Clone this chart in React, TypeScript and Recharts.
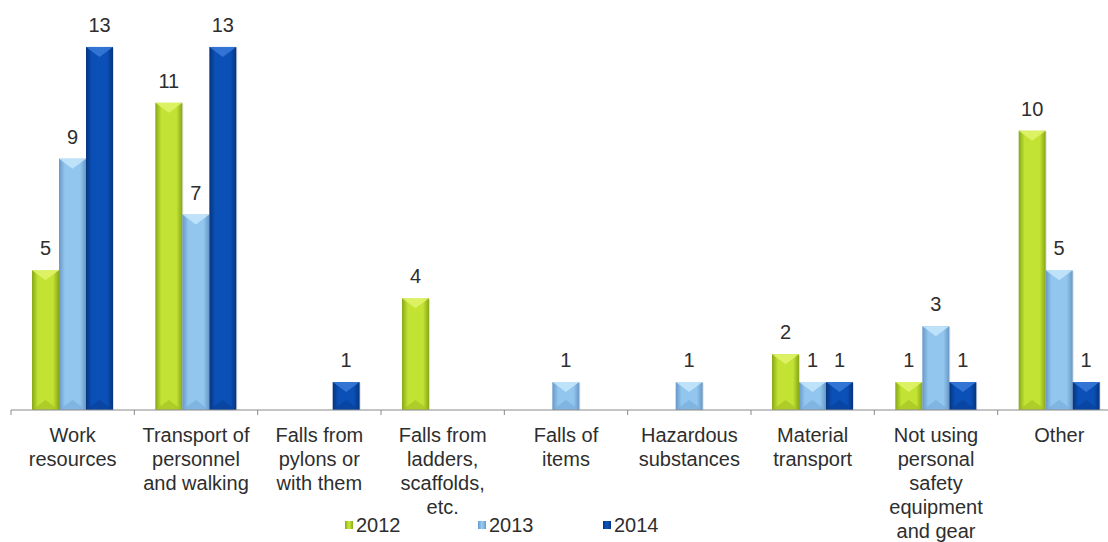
import { Bar, BarChart, LabelList, Legend, XAxis, YAxis } from "recharts";

const categories = [
  "Work\nresources",
  "Transport of\npersonnel\nand walking",
  "Falls from\npylons or\nwith them",
  "Falls from\nladders,\nscaffolds,\netc.",
  "Falls of\nitems",
  "Hazardous\nsubstances",
  "Material\ntransport",
  "Not using\npersonal\nsafety\nequipment\nand gear",
  "Other",
];
const years = ["2012", "2013", "2014"];
const values2012 = [5, 11, null, 4, null, null, 2, 1, 10];
const values2013 = [9, 7, null, null, 1, 1, 1, 3, 5];
const values2014 = [13, 13, 1, null, null, null, 1, 1, 1];

const data = categories.map((name, i) => ({
  name,
  "2012": values2012[i],
  "2013": values2013[i],
  "2014": values2014[i],
}));

const palettes: Record<string, { id: string; edge: string; mid: string; top: string; bottom: string }> = {
  "2012": { id: "g12", edge: "#87a718", mid: "#c2e234", top: "#e2f46c", bottom: "#a6c524" },
  "2013": { id: "g13", edge: "#6898c6", mid: "#92c6ee", top: "#c6e6fb", bottom: "#7aaedb" },
  "2014": { id: "g14", edge: "#05347f", mid: "#0b50b6", top: "#3a7ad8", bottom: "#08409a" },
};

const font = '"Liberation Sans", Arial, sans-serif';
const textColor = "#2e2e2e";

const bevelShape = (year: string) => (props: any) => {
  const { x, y, width: w, height: h } = props;
  if (!h || h <= 0) return <g />;
  const p = palettes[year];
  const d = Math.min(10, h / 2);
  const cx = x + w / 2;
  return (
    <g>
      <rect x={x} y={y} width={w} height={h} fill={`url(#${p.id})`} />
      <polygon points={`${x},${y} ${x + w},${y} ${cx},${y + d}`} fill={p.top} opacity={0.85} />
      <polygon points={`${x},${y + h} ${x + w},${y + h} ${cx},${y + h - d}`} fill={p.bottom} opacity={0.7} />
      <line x1={x + w + 0.5} y1={y + 1} x2={x + w + 0.5} y2={y + h} stroke="#000" strokeOpacity={0.12} />
    </g>
  );
};

function CategoryTick(props: any) {
  const { x, y, payload, index, width } = props;
  const band = width ? width / categories.length : 123.3;
  const lines = String(payload.value).split("\n");
  const left = x - band / 2;
  return (
    <g>
      <line x1={left} y1={y} x2={left} y2={y + 5} stroke="#8a8a8a" />
      {index === categories.length - 1 && (
        <line x1={left + band} y1={y} x2={left + band} y2={y + 5} stroke="#8a8a8a" />
      )}
      <text x={x} y={y + 32} textAnchor="middle" fontSize={20} fontFamily={font} fill={textColor}>
        {lines.map((line, i) => (
          <tspan key={i} x={x} dy={i === 0 ? 0 : 24}>
            {line}
          </tspan>
        ))}
      </text>
    </g>
  );
}

const legendLeft = [345, 478, 603];

function renderLegend() {
  return (
    <div style={{ position: "relative", height: 22, fontFamily: font, fontSize: 20, color: textColor }}>
      {years.map((year, i) => {
        const p = palettes[year];
        return (
          <div
            key={year}
            style={{ position: "absolute", left: legendLeft[i], top: 0, display: "flex", alignItems: "center", height: 22 }}
          >
            <span
              style={{
                display: "inline-block",
                width: 8,
                height: 8,
                marginRight: 3,
                background: `linear-gradient(90deg, ${p.edge}, ${p.mid} 40%, ${p.mid} 60%, ${p.edge})`,
              }}
            />
            <span>{year}</span>
          </div>
        );
      })}
    </div>
  );
}

export default function App() {
  return (
    <div
      style={{
        position: "absolute",
        left: 0,
        top: 0,
        width: 1108,
        height: 542,
        overflow: "hidden",
        background: "#ffffff",
      }}
    >
      <BarChart
        width={1122}
        height={542}
        data={data}
        margin={{ top: 19, right: 1, bottom: 6, left: 11 }}
        barSize={27}
        barGap={0}
      >
        <defs>
          {years.map((year) => {
            const p = palettes[year];
            return (
              <linearGradient key={p.id} id={p.id} x1="0" y1="0" x2="1" y2="0">
                <stop offset="0%" stopColor={p.edge} />
                <stop offset="22%" stopColor={p.mid} />
                <stop offset="78%" stopColor={p.mid} />
                <stop offset="100%" stopColor={p.edge} />
              </linearGradient>
            );
          })}
        </defs>
        <XAxis
          dataKey="name"
          height={104}
          interval={0}
          axisLine={{ stroke: "#8a8a8a" }}
          tickLine={false}
          tickSize={0}
          tickMargin={0}
          tick={<CategoryTick />}
        />
        <YAxis hide domain={[0, 14]} />
        <Legend verticalAlign="bottom" height={22} content={renderLegend} wrapperStyle={{ left: 0, width: 1108 }} />
        {years.map((year) => (
          <Bar key={year} dataKey={year} isAnimationActive={false} shape={bevelShape(year)} fill={palettes[year].mid}>
            <LabelList
              dataKey={year}
              position="top"
              offset={15}
              fontSize={20}
              fontFamily={font}
              fill={textColor}
            />
          </Bar>
        ))}
      </BarChart>
    </div>
  );
}
